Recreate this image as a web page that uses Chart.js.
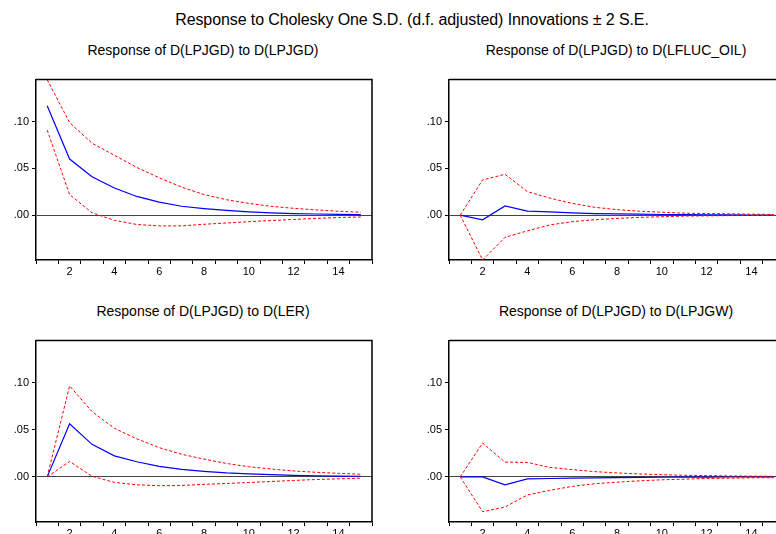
<!DOCTYPE html>
<html>
<head>
<meta charset="utf-8">
<script src="https://cdn.jsdelivr.net/npm/chart.js@4"></script>
<style>
  html, body { margin: 0; padding: 0; background: #fff; width: 776px; height: 534px; overflow: hidden; }
  body { position: relative; font-family: "Liberation Sans", Arial, sans-serif; color: #000; }
  .t { position: absolute; text-align: center; white-space: nowrap; }
  #main { left: 112px; width: 600px; top: 11px; font-size: 16px; letter-spacing: -0.1px; line-height: 18px; }
  .pt { font-size: 14px; line-height: 16px; width: 400px; }
  canvas { position: absolute; }
</style>
</head>
<body>
<div id="main" class="t">Response to Cholesky One S.D. (d.f. adjusted) Innovations ± 2 S.E.</div>
<div class="t pt" style="left:3px; top:42px;">Response of D(LPJGD) to D(LPJGD)</div>
<div class="t pt" style="left:416px; top:42px;">Response of D(LPJGD) to D(LFLUC_OIL)</div>
<div class="t pt" style="left:3px; top:303px;">Response of D(LPJGD) to D(LER)</div>
<div class="t pt" style="left:416px; top:303px;">Response of D(LPJGD) to D(LPJGW)</div>

<canvas id="c1" width="390" height="210" style="left:0px; top:70px;"></canvas>
<canvas id="c2" width="390" height="210" style="left:413px; top:70px;"></canvas>
<canvas id="c3" width="390" height="211" style="left:0px; top:331px;"></canvas>
<canvas id="c4" width="390" height="211" style="left:413px; top:331px;"></canvas>

<script>
// ---- data ----
const periods = ['1','2','3','4','5','6','7','8','9','10','11','12','13','14','15'];
const yTicks = [0, 0.05, 0.10];

const lpjgdResp  = [0.117, 0.060, 0.041, 0.029, 0.020, 0.014, 0.0095, 0.007, 0.005, 0.0035, 0.0025, 0.0017, 0.0012, 0.0008, 0.0006];
const lpjgdUpper = [0.145, 0.099, 0.077, 0.064, 0.051, 0.040, 0.030, 0.022, 0.0165, 0.0126, 0.0094, 0.0073, 0.0056, 0.0042, 0.0031];
const lpjgdLower = [0.091, 0.022, 0.0025, -0.0056, -0.010, -0.0115, -0.0115, -0.0098, -0.0084, -0.007, -0.0058, -0.0046, -0.0035, -0.0026, -0.002];

const oilResp  = [0, -0.005, 0.0098, 0.0042, 0.0035, 0.0024, 0.0017, 0.0013, 0.001, 0.0007, 0.0005, 0.0003, 0.0002, 0.0001, 0.0001];
const oilUpper = [0, 0.0377, 0.0437, 0.0252, 0.0182, 0.0126, 0.0084, 0.0059, 0.0042, 0.0031, 0.0021, 0.0017, 0.0014, 0.001, 0.0007];
const oilLower = [0, -0.048, -0.0238, -0.0168, -0.0105, -0.007, -0.0049, -0.0035, -0.0024, -0.0017, -0.001, -0.0008, -0.0005, -0.0004, -0.0003];

const lerResp  = [0, 0.0566, 0.0346, 0.0224, 0.0161, 0.0112, 0.008, 0.0059, 0.0042, 0.0031, 0.0024, 0.0017, 0.0012, 0.0009, 0.0007];
const lerUpper = [0, 0.0968, 0.0695, 0.0517, 0.0405, 0.0311, 0.0241, 0.0189, 0.0143, 0.0108, 0.0084, 0.0063, 0.0049, 0.0038, 0.0028];
const lerLower = [0, 0.0164, 0.0007, -0.0059, -0.0084, -0.0094, -0.0091, -0.008, -0.007, -0.006, -0.0049, -0.0038, -0.0028, -0.0021, -0.0014];

const lpjgwResp  = [0, 0, -0.0084, -0.0021, -0.0017, -0.0014, -0.001, -0.0007, -0.0005, -0.0004, -0.0003, -0.0002, -0.0001, -0.0001, -0.0001];
const lpjgwUpper = [0, 0.036, 0.0157, 0.0154, 0.0101, 0.0077, 0.0056, 0.0042, 0.0031, 0.0024, 0.0017, 0.0014, 0.001, 0.0008, 0.0006];
const lpjgwLower = [0, -0.037, -0.0321, -0.0192, -0.0143, -0.0101, -0.0073, -0.0056, -0.0042, -0.0031, -0.0024, -0.0017, -0.0014, -0.001, -0.0008];

const yMin = -0.048, yMax = 0.145;

// ---- chart setup ----
Chart.defaults.font.family = '"Liberation Sans", Arial, sans-serif';
Chart.defaults.font.size = 11;
Chart.defaults.color = '#000';
Chart.defaults.animation = false;

const framePlugin = {
  id: 'frame',
  afterDatasetsDraw(chart) {
    const {ctx, chartArea: a} = chart;
    ctx.save();
    ctx.strokeStyle = '#000';
    ctx.lineWidth = 1.5;
    ctx.beginPath();
    ctx.moveTo(a.left, a.top);
    ctx.lineTo(a.right, a.top);
    ctx.lineTo(a.right, a.bottom);
    ctx.stroke();
    ctx.restore();
  }
};

function makeChart(id, resp, upper, lower) {
  return new Chart(document.getElementById(id), {
    type: 'line',
    data: {
      labels: periods,
      datasets: [
        { data: upper, borderColor: '#ff0000', borderWidth: 1, borderDash: [3, 2], pointRadius: 0, fill: false, tension: 0 },
        { data: lower, borderColor: '#ff0000', borderWidth: 1, borderDash: [3, 2], pointRadius: 0, fill: false, tension: 0 },
        { data: resp, borderColor: '#0000ff', borderWidth: 1.2, pointRadius: 0, fill: false, tension: 0 }
      ]
    },
    options: {
      responsive: false,
      layout: { padding: { top: 7, right: 18, left: 0, bottom: 0 } },
      plugins: { legend: { display: false }, tooltip: { enabled: false }, title: { display: false } },
      scales: {
        x: {
          type: 'category',
          offset: true,
          grid: { offset: true, drawOnChartArea: false, tickLength: 4, color: '#000', tickColor: '#000' },
          border: { color: '#000', width: 1.5 },
          ticks: {
            autoSkip: false, maxRotation: 0, padding: 1,
            callback: (v, i) => ((i + 1) % 2 === 0 ? periods[i] : '')
          },
          afterFit: s => { s.height = 20; }
        },
        y: {
          min: yMin, max: yMax,
          afterBuildTicks: s => { s.ticks = yTicks.map(v => ({ value: v })); },
          grid: {
            drawOnChartArea: true, tickLength: 4, tickColor: '#000',
            color: c => (c.tick && c.tick.value === 0 ? '#444' : 'rgba(0,0,0,0)'),
            lineWidth: 1
          },
          border: { color: '#000', width: 1.5 },
          ticks: { padding: 3, callback: v => v.toFixed(2).replace(/^0/, '') },
          afterFit: s => { s.width = 36; }
        }
      }
    },
    plugins: [framePlugin]
  });
}

makeChart('c1', lpjgdResp, lpjgdUpper, lpjgdLower);
makeChart('c2', oilResp, oilUpper, oilLower);
makeChart('c3', lerResp, lerUpper, lerLower);
makeChart('c4', lpjgwResp, lpjgwUpper, lpjgwLower);
</script>
</body>
</html>
